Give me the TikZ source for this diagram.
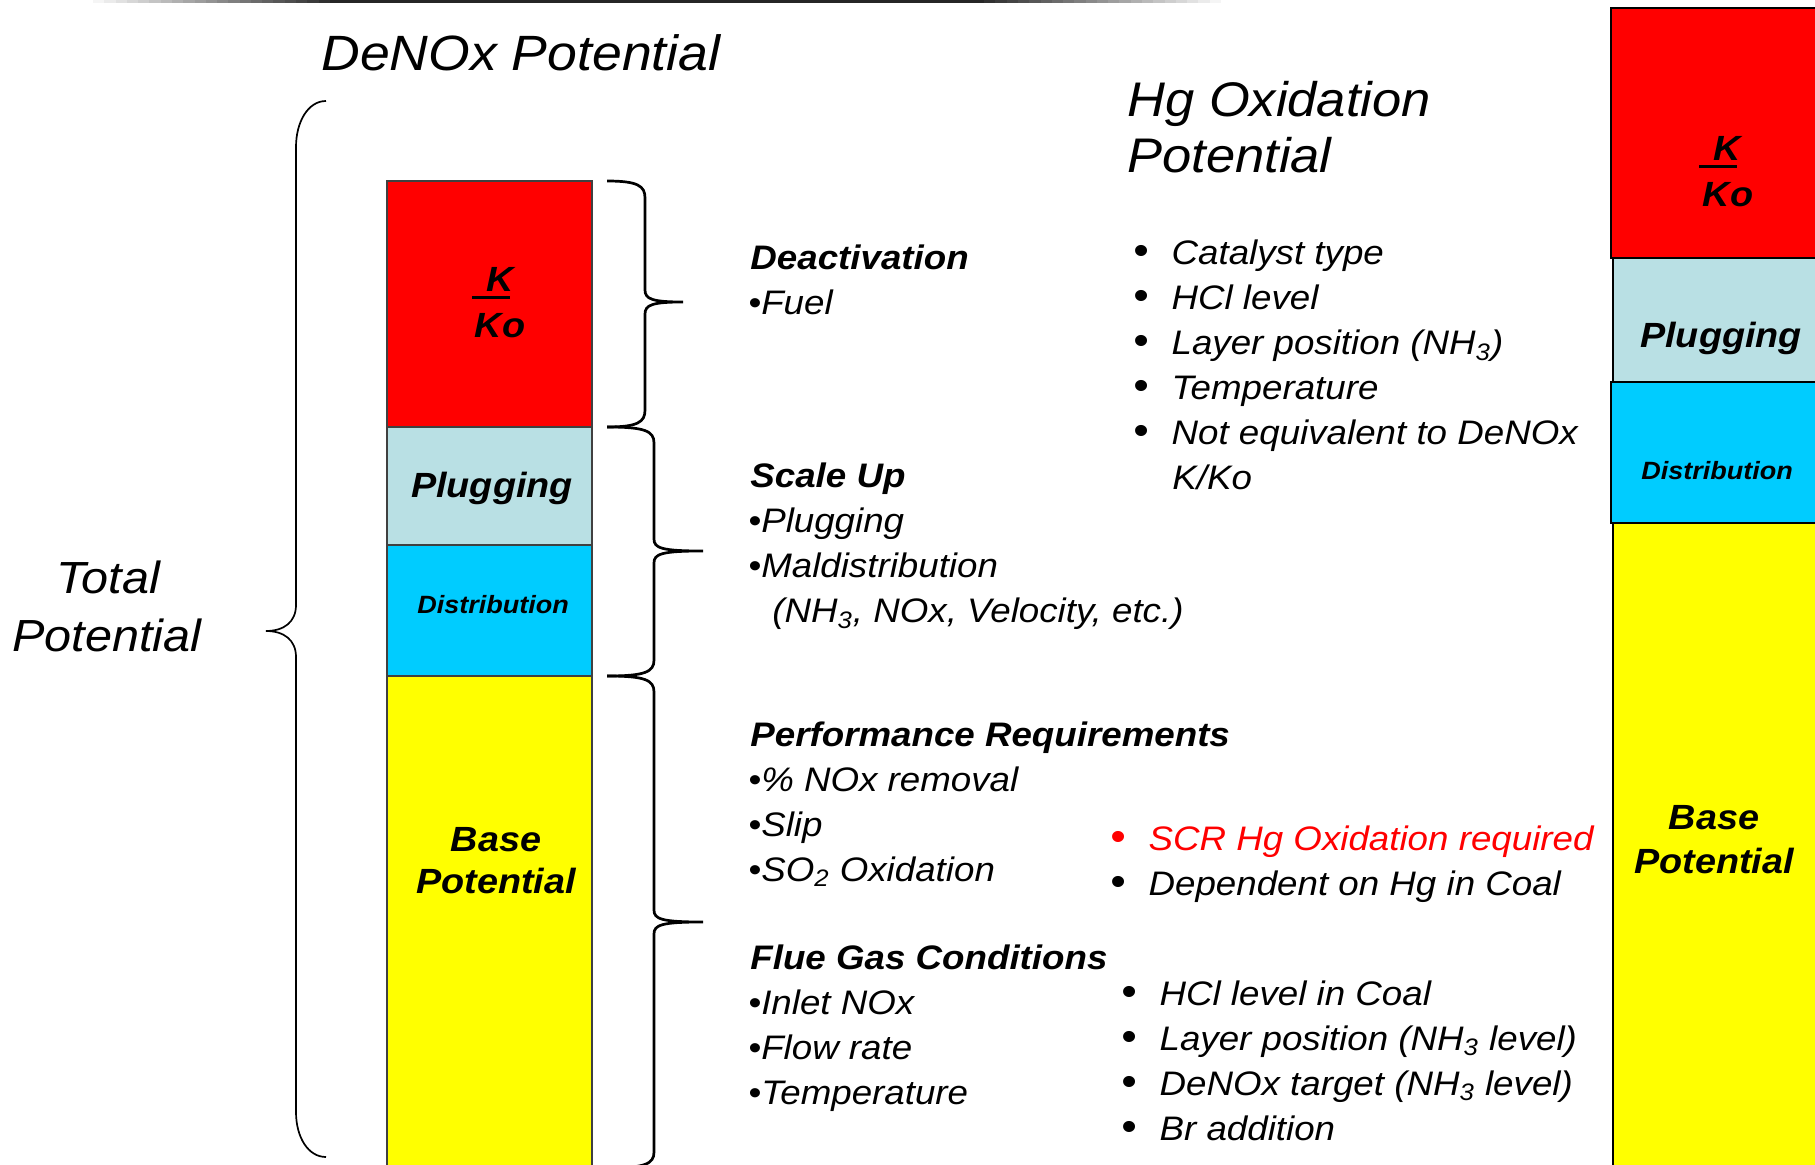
\documentclass[tikz,border=0pt]{standalone}
\usepackage{fontspec}
\setmainfont{Liberation Sans}[FakeStretch=1.08]
\definecolor{kored}{RGB}{255,0,0}
\definecolor{plugblue}{RGB}{185,224,228}
\definecolor{distcyan}{RGB}{0,204,255}
\definecolor{baseyellow}{RGB}{255,255,0}
\tikzset{
  txt/.style={anchor=base west, inner sep=0pt, font=\fontsize{17pt}{20pt}\selectfont\itshape},
  hd/.style={anchor=base west, inner sep=0pt, font=\fontsize{17pt}{20pt}\selectfont\bfseries\itshape},
  lbl/.style={anchor=base, inner sep=0pt, font=\fontsize{17.5pt}{20pt}\selectfont\bfseries\itshape},
  smalllbl/.style={anchor=base, inner sep=0pt, font=\fontsize{12.5pt}{15pt}\selectfont\bfseries\itshape},
  bigtitle/.style={anchor=base west, inner sep=0pt, font=\fontsize{24.8pt}{30pt}\selectfont\itshape},
  bar/.style={draw=black!75, line width=0.6pt},
  barR/.style={draw=black, line width=0.9pt},
  brace/.style={line width=1.35pt},
  bigbrace/.style={line width=0.85pt},
}
\newcommand{\kbar}{\makebox[0pt][l]{\hspace{-7pt}\rule[-3.75pt]{19pt}{1.5pt}}}
\newcommand{\hgb}{\scalebox{1.2}{•}\hspace{11.4pt}}
\begin{document}
\begin{tikzpicture}[x=0.5pt, y=-0.5pt]
\useasboundingbox (0,0) rectangle (1815,1165);
\clip (0,0) rectangle (1815,1165);
% fading rule at the top
\foreach \i in {0,...,99} {
  \pgfmathsetmacro\g{85*min(1,(\i+1)/22,(100-\i)/22)}
  \fill[black!\g] (93+\i*11.28,0) rectangle ++(11.6,3.2);
}

% DeNOx column
\draw[bar, fill=kored] (387,181) rectangle (592,427);
\draw[bar, fill=plugblue] (387,427) rectangle (592,545);
\draw[bar, fill=distcyan] (387,545) rectangle (592,676);
\draw[bar, fill=baseyellow] (387,676) rectangle (592,1170);
\node[lbl] (k1) at (500,292) {\kbar K};
\node[lbl] (ko1) at (500,338) {Ko};
\node[lbl] (plug1) at (492,498) {Plugging};
\node[smalllbl] (dist1) at (493,614) {Distribution};
\node[lbl] (base1) at (496,851) {Base};
\node[lbl] (pot1) at (496,893) {Potential};

% Hg column
\draw[barR, fill=kored] (1611,8) rectangle (1830,258);
\draw[barR, fill=plugblue] (1613,258) rectangle (1830,382);
\draw[barR, fill=distcyan] (1611,382) rectangle (1830,523);
\draw[barR, fill=baseyellow] (1613,523) rectangle (1830,1170);
\node[lbl] (k2) at (1727,161) {\kbar K};
\node[lbl] (ko2) at (1728,207) {Ko};
\node[lbl] (plug2) at (1721,348) {Plugging};
\node[smalllbl] (dist2) at (1717,480) {Distribution};
\node[lbl] (base2) at (1714,829) {Base};
\node[lbl] (pot2) at (1714,873) {Potential};

% titles
\node[bigtitle] (denox) at (321,71) {DeNOx Potential};
\node[bigtitle, anchor=base, font=\fontsize{22.5pt}{28pt}\selectfont\itshape] (tot1) at (108,594) {Total};
\node[bigtitle, anchor=base, font=\fontsize{22.5pt}{28pt}\selectfont\itshape] (tot2) at (107,652) {Potential};
\node[bigtitle, font=\fontsize{24.3pt}{28pt}\selectfont\itshape] (hgox1) at (1127,117) {Hg Oxidation};
\node[bigtitle, font=\fontsize{24.3pt}{28pt}\selectfont\itshape] (hgox2) at (1127,173) {Potential};

% braces
\draw[bigbrace] (326,101) .. controls (308,101) and (296,122) .. (296,147) -- (296,605)
  .. controls (296,622) and (284,631) .. (266,631) .. controls (284,631) and (296,640) .. (296,657)
  -- (296,1112) .. controls (296,1137) and (308,1157) .. (326,1157);
\draw[brace] (607,181) .. controls (638,181) and (645,186) .. (645,198) -- (645,290)
  .. controls (645,299) and (652,302) .. (683,302) .. controls (652,302) and (645,305) .. (645,314)
  -- (645,410) .. controls (645,422) and (638,427) .. (607,427);
\draw[brace] (607,427) .. controls (645,427) and (654,431) .. (654,443) -- (654,539)
  .. controls (654,548) and (661,551) .. (703,551) .. controls (661,551) and (654,554) .. (654,563)
  -- (654,660) .. controls (654,672) and (645,676) .. (607,676);
\draw[brace] (607,676) .. controls (645,676) and (654,680) .. (654,692) -- (654,910)
  .. controls (654,919) and (661,922) .. (703,922) .. controls (661,922) and (654,925) .. (654,934)
  -- (654,1152) .. controls (654,1164) and (645,1168) .. (607,1168);

% DeNOx factors
\node[hd] (deact) at (750,270) {Deactivation};
\node[txt] (fuel) at (748,315) {•Fuel};
\node[hd] (scale) at (750,488) {Scale Up};
\node[txt] (sc1) at (748,533) {•Plugging};
\node[txt] (sc2) at (748,578) {•Maldistribution};
\node[txt] (sc3) at (772,623) {(NH\textsubscript{3}, NOx, Velocity, etc.)};
\node[hd] (perf) at (750,746) {Performance Requirements};
\node[txt] (pr1) at (748,791) {•\% NOx removal};
\node[txt] (pr2) at (748,836) {•Slip};
\node[txt] (pr3) at (748,881) {•SO\textsubscript{2} Oxidation};
\node[hd] (flue) at (750,969) {Flue Gas Conditions};
\node[txt] (fg1) at (748,1014) {•Inlet NOx};
\node[txt] (fg2) at (748,1059) {•Flow rate};
\node[txt] (fg3) at (748,1104) {•Temperature};

% Hg factors
\node[txt] (hg1) at (1133,265) {\hgb Catalyst type};
\node[txt] (hg2) at (1133,310) {\hgb HCl level};
\node[txt] (hg3) at (1133,355) {\hgb Layer position (NH\textsubscript{3})};
\node[txt] (hg4) at (1133,400) {\hgb Temperature};
\node[txt] (hg5) at (1133,445) {\hgb Not equivalent to DeNOx};
\node[txt] (hg6) at (1172,490) {K/Ko};
\node[txt, text=kored] (scr) at (1110,850) {\hgb SCR Hg Oxidation required};
\node[txt] (dep) at (1110,895) {\hgb Dependent on Hg in Coal};
\node[txt] (fl1) at (1121,1005) {\hgb HCl level in Coal};
\node[txt] (fl2) at (1121,1050) {\hgb Layer position (NH\textsubscript{3} level)};
\node[txt] (fl3) at (1121,1095) {\hgb DeNOx target (NH\textsubscript{3} level)};
\node[txt] (fl4) at (1121,1140) {\hgb Br addition};
\end{tikzpicture}
\end{document}
